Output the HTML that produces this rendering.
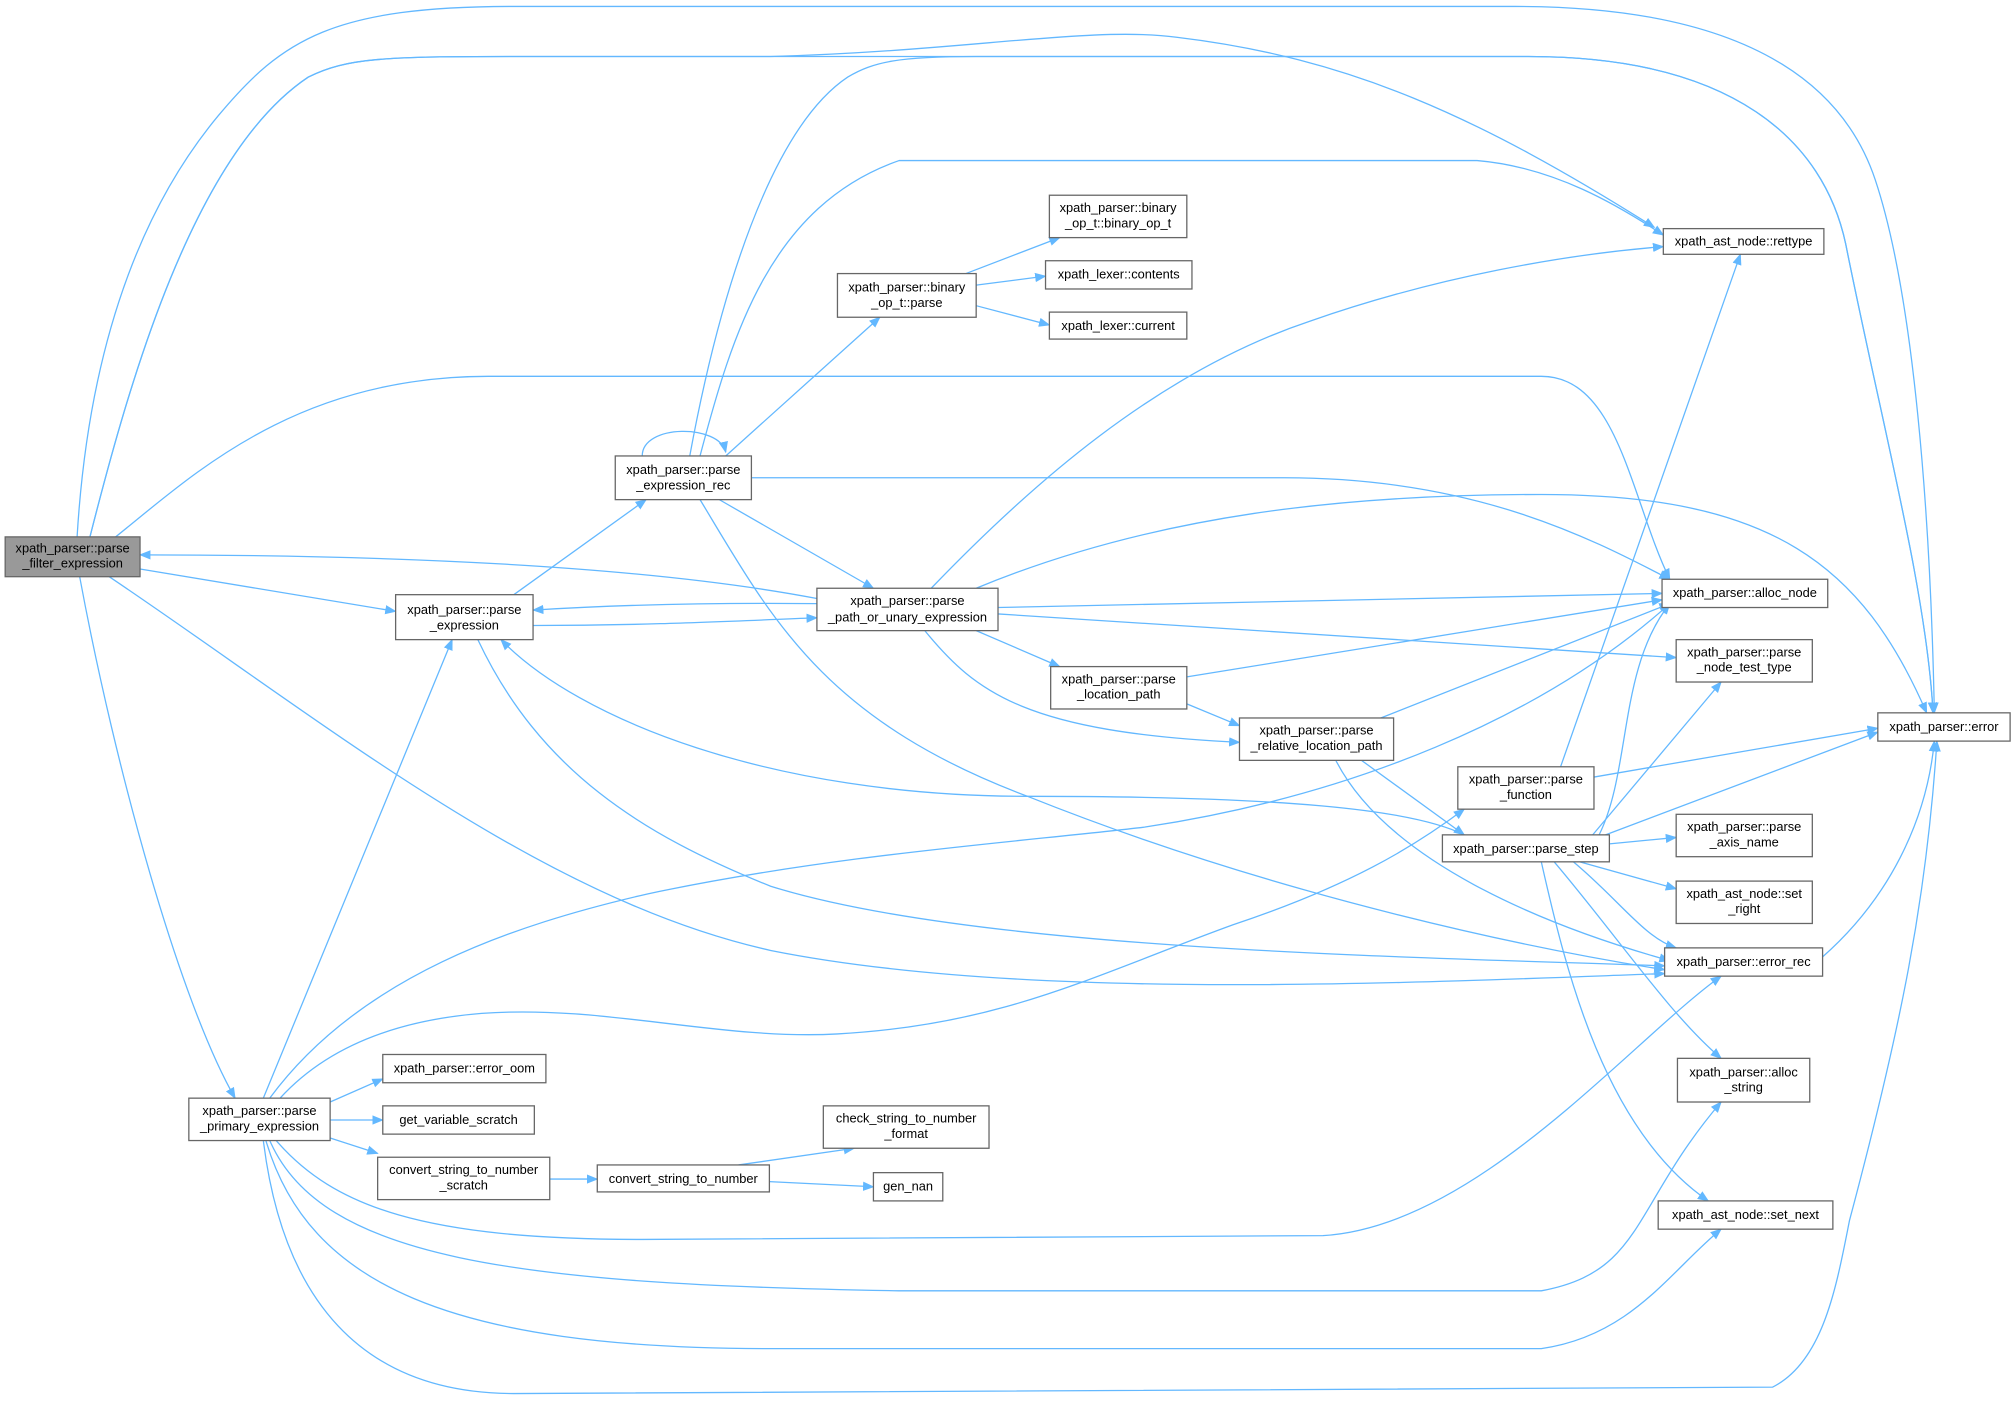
<!DOCTYPE html>
<html><head><meta charset="utf-8"><style>
html,body{margin:0;padding:0;background:#fff;}
svg{display:block;}
text{font-family:"Liberation Sans",Arial,sans-serif;font-size:10px;fill:#000;}
.n{fill:#fff;stroke:#666;stroke-width:1;}
.e{fill:none;stroke:#63b8ff;stroke-width:1;marker-end:url(#a);}
</style></head><body>
<svg width="2014" height="1405" viewBox="0 0 1568 1093.9" xmlns="http://www.w3.org/2000/svg">
<defs><marker id="a" viewBox="0 0 10 10" refX="9" refY="5" markerWidth="9" markerHeight="9" orient="auto" markerUnits="userSpaceOnUse"><path d="M0,1 L10,5 L0,9 z" fill="#63b8ff"/></marker></defs>

<!-- edges -->
<path class="e" d="M60,418 C70,250 120,150 170,90 C220,30 260,5 400,5 L1180,5 C1380,5 1440,80 1460,140 C1490,230 1503,400 1506,555"/>
<path class="e" d="M70,418 C100,300 150,120 240,60 C270,45 300,44 400,44 L1190,44 C1350,44 1420,110 1437,190 C1465,330 1500,460 1505,555"/>
<path class="e" d="M70,418 C100,300 150,120 240,60 C270,45 300,44 400,44 L600,44 C750,40 850,20 916,29 C1050,45 1150,90 1288,177"/>
<path class="e" d="M90,418 C150,370 230,293 380,293 L1200,293 C1260,293 1270,390 1300,451"/>
<path class="e" d="M109,443 L308,476"/>
<path class="e" d="M62,449 C90,600 140,780 183,855"/>
<path class="e" d="M85,449 C250,560 420,700 600,740 C800,780 1100,765 1296,758"/>
<path class="e" d="M636,466 C500,440 300,432 109,432"/>
<path class="e" d="M400,463 L503,389"/>
<path class="e" d="M415,487 C500,487 560,484 636,481"/>
<path class="e" d="M636,470 C550,469 480,471 415,475"/>
<path class="e" d="M372,498 C420,600 500,650 600,690 C760,740 1100,745 1296,752"/>
<path class="e" d="M500,355 C500,330 560,330 565,352"/>
<path class="e" d="M565,355 L685,247"/>
<path class="e" d="M545,355 C570,260 600,160 700,125 L1150,125 C1210,130 1260,160 1295,183"/>
<path class="e" d="M537,355 C560,230 600,100 660,60 C680,48 700,44 760,44 L1190,44 C1350,44 1420,110 1437,190 C1465,330 1500,460 1505,555"/>
<path class="e" d="M585,372 L1000,372 C1150,372 1240,420 1300,451"/>
<path class="e" d="M560,389 L680,458"/>
<path class="e" d="M545,389 C600,480 640,560 800,620 C1000,700 1200,740 1296,755"/>
<path class="e" d="M752,213 L825,185"/>
<path class="e" d="M760,222 L814,215"/>
<path class="e" d="M760,238 L817,253"/>
<path class="e" d="M725,458 C800,380 900,290 1020,250 C1120,215 1220,198 1295,192"/>
<path class="e" d="M760,458 C900,400 1050,385 1200,385 C1380,385 1450,440 1500,555"/>
<path class="e" d="M777,473 L1294,462"/>
<path class="e" d="M777,478 L1305,512"/>
<path class="e" d="M760,491 L825,519"/>
<path class="e" d="M720,491 C760,540 800,570 965,578"/>
<path class="e" d="M924,527 L1294,467"/>
<path class="e" d="M924,548 L965,565"/>
<path class="e" d="M1075,559 L1300,470"/>
<path class="e" d="M1060,592 L1140,650"/>
<path class="e" d="M1040,592 C1080,670 1200,720 1300,748"/>
<path class="e" d="M1140,650 C1100,630 1000,620 800,620 C600,620 450,560 390,498"/>
<path class="e" d="M1215,597 L1355,198"/>
<path class="e" d="M1241,605 L1462,567"/>
<path class="e" d="M1245,650 C1270,600 1260,520 1300,470"/>
<path class="e" d="M1250,650 L1462,570"/>
<path class="e" d="M1240,650 L1340,531"/>
<path class="e" d="M1253,657 L1305,652"/>
<path class="e" d="M1230,671 L1305,692"/>
<path class="e" d="M1225,671 C1260,700 1280,730 1305,738"/>
<path class="e" d="M1210,671 C1260,730 1300,790 1340,824"/>
<path class="e" d="M1200,671 C1220,760 1250,880 1330,935"/>
<path class="e" d="M205,855 L352,498"/>
<path class="e" d="M210,855 C280,760 400,720 504,696 C650,665 800,655 891,644 C1050,620 1200,560 1300,470"/>
<path class="e" d="M218,855 C250,820 300,795 375,789 C470,782 560,810 652,805 C780,798 850,760 960,720 C1050,690 1100,660 1140,630"/>
<path class="e" d="M257,858 L298,840"/>
<path class="e" d="M257,872 L298,872"/>
<path class="e" d="M257,886 L294,898"/>
<path class="e" d="M215,888 C260,940 330,965 500,965 L1030,962 C1150,955 1270,810 1340,760"/>
<path class="e" d="M210,888 C250,980 400,1000 700,1005 L1200,1005 C1280,990 1270,940 1340,858"/>
<path class="e" d="M207,888 C240,1000 350,1050 600,1050 L1200,1050 C1270,1040 1300,990 1340,957"/>
<path class="e" d="M205,888 C220,1010 280,1085 400,1085 L1380,1080 C1420,1060 1430,1000 1440,950 C1480,800 1500,700 1508,577"/>
<path class="e" d="M1419,745 C1470,700 1500,640 1506,577"/>
<path class="e" d="M428,918 L465,918"/>
<path class="e" d="M575,907 L665,894"/>
<path class="e" d="M599,920 L680,924"/>

<!-- nodes -->
<rect x="4" y="418" width="105" height="31" fill="#999" stroke="#666"/>
<text x="56.5" y="430" text-anchor="middle">xpath_parser::parse</text><text x="56.5" y="442" text-anchor="middle">_filter_expression</text>
<rect class="n" x="308" y="463" width="107" height="35"/>
<text x="361.5" y="478" text-anchor="middle">xpath_parser::parse</text><text x="361.5" y="490" text-anchor="middle">_expression</text>
<rect class="n" x="479" y="355" width="106" height="34"/>
<text x="532" y="369" text-anchor="middle">xpath_parser::parse</text><text x="532" y="381" text-anchor="middle">_expression_rec</text>
<rect class="n" x="636" y="458" width="141" height="33"/>
<text x="706.5" y="471" text-anchor="middle">xpath_parser::parse</text><text x="706.5" y="484" text-anchor="middle">_path_or_unary_expression</text>
<rect class="n" x="652" y="213" width="108" height="34"/>
<text x="706" y="227" text-anchor="middle">xpath_parser::binary</text><text x="706" y="239" text-anchor="middle">_op_t::parse</text>
<rect class="n" x="817" y="152" width="107" height="33"/>
<text x="870.5" y="165" text-anchor="middle">xpath_parser::binary</text><text x="870.5" y="177" text-anchor="middle">_op_t::binary_op_t</text>
<rect class="n" x="814" y="203" width="114" height="22"/>
<text x="871" y="217" text-anchor="middle">xpath_lexer::contents</text>
<rect class="n" x="817" y="243" width="107" height="21"/>
<text x="870.5" y="257" text-anchor="middle">xpath_lexer::current</text>
<rect class="n" x="1295" y="178" width="125" height="20"/>
<text x="1357.5" y="191" text-anchor="middle">xpath_ast_node::rettype</text>
<rect class="n" x="1294" y="451" width="129" height="22"/>
<text x="1358.5" y="465" text-anchor="middle">xpath_parser::alloc_node</text>
<rect class="n" x="1305" y="498" width="106" height="33"/>
<text x="1358" y="511" text-anchor="middle">xpath_parser::parse</text><text x="1358" y="523" text-anchor="middle">_node_test_type</text>
<rect class="n" x="1462" y="555" width="103" height="22"/>
<text x="1513.5" y="569" text-anchor="middle">xpath_parser::error</text>
<rect class="n" x="818" y="519" width="106" height="33"/>
<text x="871" y="532" text-anchor="middle">xpath_parser::parse</text><text x="871" y="544" text-anchor="middle">_location_path</text>
<rect class="n" x="965" y="559" width="120" height="33"/>
<text x="1025" y="572" text-anchor="middle">xpath_parser::parse</text><text x="1025" y="584" text-anchor="middle">_relative_location_path</text>
<rect class="n" x="1135" y="597" width="106" height="33"/>
<text x="1188" y="610" text-anchor="middle">xpath_parser::parse</text><text x="1188" y="622" text-anchor="middle">_function</text>
<rect class="n" x="1123" y="650" width="130" height="21"/>
<text x="1188" y="664" text-anchor="middle">xpath_parser::parse_step</text>
<rect class="n" x="1305" y="634" width="106" height="33"/>
<text x="1358" y="647" text-anchor="middle">xpath_parser::parse</text><text x="1358" y="659" text-anchor="middle">_axis_name</text>
<rect class="n" x="1305" y="686" width="106" height="33"/>
<text x="1358" y="699" text-anchor="middle">xpath_ast_node::set</text><text x="1358" y="711" text-anchor="middle">_right</text>
<rect class="n" x="1296" y="738" width="123" height="22"/>
<text x="1357.5" y="752" text-anchor="middle">xpath_parser::error_rec</text>
<rect class="n" x="1306" y="824" width="103" height="34"/>
<text x="1357.5" y="838" text-anchor="middle">xpath_parser::alloc</text><text x="1357.5" y="850" text-anchor="middle">_string</text>
<rect class="n" x="1291" y="935" width="136" height="22"/>
<text x="1359" y="949" text-anchor="middle">xpath_ast_node::set_next</text>
<rect class="n" x="147" y="855" width="110" height="33"/>
<text x="202" y="868" text-anchor="middle">xpath_parser::parse</text><text x="202" y="880" text-anchor="middle">_primary_expression</text>
<rect class="n" x="298" y="821" width="127" height="22"/>
<text x="361.5" y="835" text-anchor="middle">xpath_parser::error_oom</text>
<rect class="n" x="298" y="861" width="118" height="22"/>
<text x="357" y="875" text-anchor="middle">get_variable_scratch</text>
<rect class="n" x="294" y="901" width="134" height="33"/>
<text x="361" y="914" text-anchor="middle">convert_string_to_number</text><text x="361" y="926" text-anchor="middle">_scratch</text>
<rect class="n" x="465" y="907" width="134" height="21"/>
<text x="532" y="921" text-anchor="middle">convert_string_to_number</text>
<rect class="n" x="641" y="861" width="129" height="33"/>
<text x="705.5" y="874" text-anchor="middle">check_string_to_number</text><text x="705.5" y="886" text-anchor="middle">_format</text>
<rect class="n" x="680" y="913" width="54" height="22"/>
<text x="707" y="927" text-anchor="middle">gen_nan</text>
</svg>
</body></html>
